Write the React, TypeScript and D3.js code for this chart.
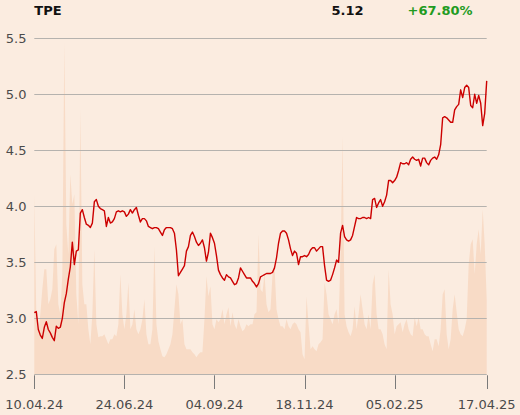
import React from "react";
import * as d3 from "d3";

const ticker = "TPE";
const lastPrice = "5.12";
const changeText = "+67.80%";

const prices: number[] = [
  3.05, 3.06, 2.90, 2.85, 2.82, 2.92, 2.97, 2.90, 2.87, 2.83,
  2.80, 2.93, 2.91, 2.92, 3.00, 3.14, 3.22, 3.35, 3.46, 3.68,
  3.48, 3.60, 3.61, 3.94, 3.97, 3.90, 3.84, 3.83, 3.81, 3.85,
  4.04, 4.06, 4.00, 3.98, 3.97, 3.96, 3.82, 3.90, 3.85, 3.86,
  3.89, 3.95, 3.96, 3.95, 3.96, 3.95, 3.91, 3.93, 3.97, 3.94,
  3.97, 3.99, 3.92, 3.86, 3.89, 3.89, 3.87, 3.82, 3.81, 3.80,
  3.81, 3.81, 3.80, 3.77, 3.74, 3.79, 3.81, 3.81, 3.81, 3.80,
  3.76, 3.61, 3.38, 3.41, 3.44, 3.47, 3.60, 3.64, 3.74, 3.77,
  3.73, 3.68, 3.65, 3.67, 3.70, 3.63, 3.51, 3.59, 3.76, 3.72,
  3.67, 3.56, 3.43, 3.39, 3.36, 3.34, 3.39, 3.37, 3.36, 3.33,
  3.30, 3.31, 3.36, 3.45, 3.42, 3.39, 3.36, 3.36, 3.36, 3.33,
  3.31, 3.28, 3.31, 3.37, 3.38, 3.39, 3.40, 3.40, 3.40, 3.41,
  3.45, 3.54, 3.67, 3.76, 3.78, 3.78, 3.76, 3.70, 3.62, 3.56,
  3.60, 3.58, 3.48, 3.55, 3.55, 3.56, 3.55, 3.57, 3.61, 3.63,
  3.63, 3.60, 3.62, 3.64, 3.64, 3.47, 3.34, 3.33, 3.34, 3.39,
  3.45, 3.52, 3.50, 3.76, 3.83, 3.73, 3.70, 3.69, 3.70, 3.74,
  3.82, 3.90, 3.89, 3.89, 3.90, 3.90, 3.89, 3.90, 3.89, 4.06,
  4.07, 3.99, 4.03, 4.06, 4.00, 4.04, 4.10, 4.23, 4.23, 4.21,
  4.23, 4.26, 4.32, 4.39, 4.38, 4.38, 4.39, 4.37, 4.42, 4.44,
  4.42, 4.41, 4.42, 4.36, 4.43, 4.43, 4.39, 4.37, 4.41, 4.43,
  4.44, 4.42, 4.46, 4.55, 4.79, 4.80, 4.79, 4.77, 4.75, 4.75,
  4.86, 4.89, 4.91, 5.04, 4.97, 5.06, 5.08, 5.06, 4.90, 4.88,
  5.00, 4.92, 4.99, 4.92, 4.72, 4.83, 5.12,
];

const volumes: number[] = [
  180, 60, 40, 60, 85, 105, 105, 70, 75, 85,
  125, 130, 70, 60, 100, 332, 150, 120, 200, 170,
  180, 80, 50, 265, 90, 70, 70, 45, 30, 60,
  125, 50, 37, 38, 38, 40, 35, 30, 35, 35,
  40, 38, 50, 100, 60, 45, 60, 92, 45, 50,
  65, 45, 40, 45, 55, 75, 40, 30, 30, 45,
  128, 50, 33, 25, 18, 17, 20, 25, 30, 40,
  65, 90, 80, 50, 55, 30, 25, 25, 25, 22,
  20, 17, 20, 22, 22, 55, 98, 78, 88, 50,
  45, 55, 52, 55, 65, 50, 60, 67, 48, 62,
  50, 45, 55, 48, 43, 45, 50, 48, 50, 50,
  60, 62, 140, 85, 82, 100, 70, 62, 65, 100,
  108, 65, 55, 48, 48, 45, 55, 48, 45, 50,
  52, 50, 45, 42, 20, 15, 78, 50, 25, 28,
  25, 23, 30, 32, 35, 92, 80, 60, 55, 50,
  60, 65, 50, 120, 238, 60, 48, 42, 38, 45,
  68, 45, 60, 80, 65, 50, 45, 60, 45, 90,
  100, 60, 45, 45, 40, 30, 25, 105, 70, 60,
  40, 48, 50, 52, 42, 50, 55, 45, 40, 38,
  57, 48, 57, 45, 45, 40, 38, 38, 30, 23,
  35, 35, 28, 45, 80, 85, 40, 25, 35, 65,
  80, 62, 45, 40, 38, 45, 55, 110, 130, 135,
  100, 130, 145, 120, 165, 130, 75,
];

const yTicks = [2.5, 3.0, 3.5, 4.0, 4.5, 5.0, 5.5];
const xTickIndex = [0, 45, 90, 135, 180, 226];
const xTickLabels = ["10.04.24", "24.06.24", "04.09.24", "18.11.24", "05.02.25", "17.04.25"];

export default function App() {
  const W = 520;
  const H = 415;
  const left = 34.3;
  const right = 486.7;
  const top = 38.3;
  const bottom = 374.3;
  const font = "'DejaVu Sans', sans-serif";

  const x = d3.scaleLinear().domain([0, prices.length - 1]).range([left, right]);
  const y = d3.scaleLinear().domain([2.5, 5.5]).range([bottom, top]);
  const yv = d3.scaleLinear().domain([0, 336]).range([bottom, top]);

  const linePath = d3
    .line<number>()
    .x((_, i) => x(i))
    .y((d) => y(d))(prices) as string;

  const areaPath = d3
    .area<number>()
    .x((_, i) => x(i))
    .y0(bottom + 0.7)
    .y1((d) => yv(d))(volumes) as string;

  return (
    <div style={{ position: "fixed", left: 0, top: 0, width: W, height: H }}>
      <svg width={W} height={H} style={{ display: "block" }}>
        <rect x={0} y={0} width={W} height={H} fill="#fbece0" />
        <path d={areaPath} fill="#f8dbc6" />
        {yTicks.map((t) => (
          <g key={t}>
            <line
              x1={left}
              x2={right}
              y1={Math.round(y(t)) + 0.5}
              y2={Math.round(y(t)) + 0.5}
              stroke="#b5b2ae"
              strokeWidth={1}
            />
            <text
              x={26.5}
              y={y(t)}
              dy="0.36em"
              textAnchor="end"
              fontFamily={font}
              fontSize={13}
              fill="#4a4a4a"
            >
              {t.toFixed(1)}
            </text>
          </g>
        ))}
        {xTickIndex.map((idx, k) => (
          <g key={idx}>
            <line
              x1={Math.round(x(idx)) + 0.5}
              x2={Math.round(x(idx)) + 0.5}
              y1={bottom + 1}
              y2={389}
              stroke="#7a7a7a"
              strokeWidth={1}
            />
            <text
              x={x(idx)}
              y={408.5}
              textAnchor="middle"
              fontFamily={font}
              fontSize={13}
              fill="#4a4a4a"
            >
              {xTickLabels[k]}
            </text>
          </g>
        ))}
        <path d={linePath} fill="none" stroke="#cc0000" strokeWidth={1.4} strokeLinejoin="round" />
        <text x={34.3} y={14.5} fontFamily={font} fontSize={13} fontWeight="bold" fill="#111">
          {ticker}
        </text>
        <text x={331.5} y={14.5} fontFamily={font} fontSize={13} fontWeight="bold" fill="#111">
          {lastPrice}
        </text>
        <text x={407.5} y={14.5} fontFamily={font} fontSize={13} fontWeight="bold" fill="#1f9b1f">
          {changeText}
        </text>
      </svg>
    </div>
  );
}
